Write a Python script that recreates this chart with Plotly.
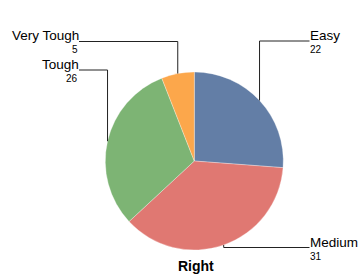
import math
import plotly.graph_objects as go

categories = ["Easy", "Medium", "Tough", "Very Tough"]
values = [22, 31, 26, 5]
colors = ["#637ea6", "#e07872", "#7db474", "#fca74b"]
title_text = "Right"

W, H = 358, 275
FONT = "Liberation Sans, Arial, sans-serif"
cx, cy, r = 194.3, 161.0, 89.0
label_x = {"right": 309.5, "left": 79.0}
text_nudge = {"right": -1.0, "left": 1.0}
label_y = {"Easy": 41.0, "Medium": 247.5, "Tough": 70.0, "Very Tough": 41.5}


def px(x):
    return x / W


def py(y):
    return 1 - y / H


fig = go.Figure(
    go.Pie(
        labels=categories,
        values=values,
        sort=False,
        direction="clockwise",
        rotation=0,
        marker=dict(colors=colors, line=dict(color="rgba(255,255,255,0.6)", width=0.5)),
        textinfo="none",
        hoverinfo="label+value",
        showlegend=False,
        domain=dict(x=[px(cx - r), px(cx + r)], y=[py(cy + r), py(cy - r)]),
    )
)

shapes = []
annotations = []
total = sum(values)
cum = 0
for name, v in zip(categories, values):
    mid = (cum + v / 2) / total * 2 * math.pi
    cum += v
    ax = cx + r * math.sin(mid)
    ay = cy - r * math.cos(mid)
    side = "right" if math.sin(mid) > 0 else "left"
    lx = label_x[side]
    ly = label_y[name]
    tx = lx + text_nudge[side]
    line = dict(color="#222222", width=1)
    shapes.append(dict(type="line", xref="paper", yref="paper", x0=px(ax), y0=py(ay), x1=px(ax), y1=py(ly), line=line))
    shapes.append(dict(type="line", xref="paper", yref="paper", x0=px(ax), y0=py(ly), x1=px(lx), y1=py(ly), line=line))
    xa = "left" if side == "right" else "right"
    annotations.append(dict(text=name, x=px(tx), y=py(ly), xref="paper", yref="paper", xanchor=xa, yanchor="bottom",
                            showarrow=False, borderpad=0, yshift=-3, font=dict(family=FONT, size=13.5, color="#000")))
    annotations.append(dict(text=str(v), x=px(tx - (0 if side == "right" else 1.5)), y=py(ly), xref="paper", yref="paper",
                            xanchor=xa, yanchor="top", showarrow=False, borderpad=0, yshift=-2,
                            font=dict(family=FONT, size=10, color="#000")))

annotations.append(dict(text="<b>" + title_text + "</b>", x=px(196), y=py(266), xref="paper", yref="paper",
                        xanchor="center", yanchor="middle", showarrow=False,
                        font=dict(family=FONT, size=14, color="#000")))

fig.update_layout(
    width=W, height=H,
    margin=dict(l=0, r=0, t=0, b=0),
    paper_bgcolor="white", plot_bgcolor="white",
    shapes=shapes, annotations=annotations,
)

fig.write_html("out.html", config={"displayModeBar": False},
               post_script="document.body.style.margin='0';document.body.style.overflow='hidden';")
